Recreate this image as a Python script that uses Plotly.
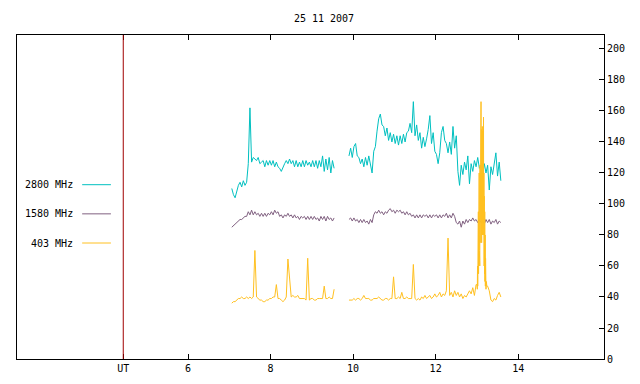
import numpy as np
import plotly.graph_objects as go

TITLE = "25 11 2007"
UT_MARK = 4.43
X_TICKS = [UT_MARK, 6, 8, 10, 12, 14]
X_TICK_TEXT = ["UT", "6", "8", "10", "12", "14"]
Y_TICKS = list(range(0, 201, 20))
X_RANGE = [1.855, 16.08]
Y_RANGE = [0, 209]

SERIES_NAMES = ["2800 MHz", "1580 MHz", "403 MHz"]
COLORS = ["#00c0c0", "#806080", "#ffc020"]

SEG1_T0 = 7.06
SEG2_T0 = 9.90
TAIL_T0 = 13.26
DT = 0.04

f2800_seg1 = [110, 106, 104, 109, 112, 114, 111, 115, 112, 114,
              126, 162, 127, 130, 129, 128, 130, 126, 127, 128,
              124, 128, 125, 128, 125, 128, 124, 127, 124, 123,
              121, 124, 126, 128, 126, 129, 126, 128, 124, 128,
              124, 127, 124, 128, 124, 128, 125, 127, 124, 128,
              124, 128, 123, 128, 124, 131, 121, 129, 122, 130,
              120, 128, 123]
f2800_seg2 = [131, 136, 130, 137, 139, 131, 130, 126, 129, 124,
              130, 125, 131, 126, 120, 134, 137, 147, 155, 158,
              151, 150, 144, 149, 141, 146, 140, 145, 139, 144,
              138, 144, 139, 145, 140, 146, 147, 152, 146, 166,
              144, 151, 141, 146, 136, 143, 137, 142, 148, 157,
              139, 146, 134, 132, 126, 133, 146, 150, 141, 139,
              133, 140, 132, 150, 136, 144, 121, 112, 125, 119,
              127, 122, 131, 113, 126, 121, 128, 124, 130, 123,
              125, 119, 126, 120, 125, 109, 124, 119, 128, 133,
              118, 127, 115]

f1580_seg1 = [85, 86, 87, 88, 89, 90, 90, 91, 92, 92,
              95, 93, 96, 93, 95, 93, 94, 92, 94, 92,
              94, 92, 94, 93, 95, 93, 96, 94, 95, 92,
              93, 91, 93, 92, 94, 92, 93, 91, 93, 91,
              92, 90, 92, 91, 92, 90, 92, 90, 92, 90,
              92, 90, 91, 89, 92, 90, 92, 89, 92, 90,
              91, 89, 91]
f1580_seg2 = [90, 91, 89, 91, 89, 90, 88, 90, 88, 90,
              88, 89, 87, 90, 88, 93, 95, 94, 96, 94,
              95, 93, 95, 94, 96, 97, 95, 96, 94, 96,
              95, 96, 94, 95, 93, 95, 93, 94, 92, 93,
              91, 93, 91, 93, 91, 93, 92, 93, 91, 93,
              91, 93, 92, 93, 91, 93, 91, 93, 92, 94,
              91, 93, 91, 94, 92, 88, 87, 89, 85, 89,
              87, 90, 88, 90, 89, 91, 89, 90, 88, 90,
              88, 89, 87, 90, 88, 90, 87, 89, 88, 90,
              87, 89, 88]

f403_seg1 = [36, 37, 37, 38, 39, 39, 40, 39, 39, 40,
             39, 40, 39, 40, 70, 40, 39, 38, 38, 37,
             37, 38, 38, 39, 39, 40, 40, 48, 39, 39,
             38, 37, 38, 40, 64.5, 50, 40, 41, 40, 40,
             41, 39, 39, 39, 39, 38, 65, 38, 39, 39,
             38, 38, 39, 39, 39, 39, 47, 39, 39, 40,
             39, 39, 45]
f403_seg2 = [38, 38, 38, 39, 38, 39, 39, 38, 39, 41,
             39, 39, 39, 38, 38, 39, 39, 39, 40, 39,
             38, 38, 39, 39, 38, 39, 39, 53, 39, 39,
             40, 39, 43, 39, 39, 40, 39, 39, 39, 61,
             39, 38, 39, 38, 40, 39, 41, 39, 40, 41,
             39, 40, 42, 40, 41, 43, 40, 42, 41, 44,
             78, 41, 43, 40, 44, 41, 43, 40, 42, 39,
             41, 40, 42, 44, 42, 46, 41, 48]
f403_burst_t = [13.000, 13.005, 13.010, 13.015, 13.020, 13.025, 13.030, 13.035,
                13.040, 13.045, 13.050, 13.055, 13.060, 13.065, 13.070, 13.075,
                13.080, 13.085, 13.090, 13.095, 13.100, 13.105, 13.110, 13.115,
                13.120, 13.125, 13.130, 13.135, 13.140, 13.145, 13.150, 13.155,
                13.160, 13.165, 13.170, 13.175, 13.180, 13.185, 13.190, 13.195,
                13.200, 13.205, 13.210, 13.220, 13.230, 13.240]
f403_burst = [48, 55, 45, 60, 47, 75, 50, 95,
              55, 110, 60, 120, 70, 105, 60, 125,
              75, 140, 80, 150, 166, 90, 148, 75,
              145, 85, 150, 80, 147, 90, 150, 100,
              156, 80, 120, 60, 105, 55, 95, 50,
              80, 47, 65, 45, 50, 47]
f403_tail = [47, 44, 38, 37, 39, 38, 41, 43, 40]


def times(t0, vals):
    return list(t0 + DT * np.arange(len(vals)))


x2800 = times(SEG1_T0, f2800_seg1) + [None] + times(SEG2_T0, f2800_seg2)
y2800 = f2800_seg1 + [None] + f2800_seg2
x1580 = times(SEG1_T0, f1580_seg1) + [None] + times(SEG2_T0, f1580_seg2)
y1580 = f1580_seg1 + [None] + f1580_seg2
x403 = (times(SEG1_T0, f403_seg1) + [None] + times(SEG2_T0, f403_seg2)
        + f403_burst_t + times(TAIL_T0, f403_tail))
y403 = f403_seg1 + [None] + f403_seg2 + f403_burst + f403_tail

FONT = "DejaVu Sans Mono"

fig = go.Figure()
for name, xs, ys, col in zip(SERIES_NAMES, [x2800, x1580, x403],
                             [y2800, y1580, y403], COLORS):
    fig.add_trace(go.Scatter(x=xs, y=ys, mode="lines", name=name,
                             line=dict(color=col, width=1),
                             connectgaps=False, showlegend=False))

fig.add_shape(type="line", xref="x", yref="paper", x0=UT_MARK, x1=UT_MARK,
              y0=0, y1=1, line=dict(color="#a00000", width=1))

# legend drawn gnuplot-style: label then sample line
leg_y = [0.538, 0.448, 0.358]
for name, col, ly in zip(SERIES_NAMES, COLORS, leg_y):
    fig.add_annotation(xref="paper", yref="paper", x=0.099, y=ly,
                       text=name, showarrow=False, xanchor="right",
                       yanchor="middle", font=dict(family=FONT, size=10, color="black"))
    fig.add_shape(type="line", xref="paper", yref="paper", x0=0.111, x1=0.160,
                  y0=ly, y1=ly, line=dict(color=col, width=1))

fig.update_layout(
    width=632, height=376,
    margin=dict(l=9, r=36, t=27, b=25),
    paper_bgcolor="white", plot_bgcolor="white",
    title=dict(text=TITLE, x=0.5, xref="container", xanchor="center",
               y=0.973, yref="container", yanchor="middle",
               font=dict(family=FONT, size=10, color="black")),
    font=dict(family=FONT, size=10, color="black"),
    xaxis=dict(range=X_RANGE, tickvals=X_TICKS, ticktext=X_TICK_TEXT,
               ticks="inside", ticklen=5, tickcolor="black",
               showline=True, linecolor="black", linewidth=1, mirror="ticks",
               showgrid=False, zeroline=False),
    yaxis=dict(range=Y_RANGE, tickvals=Y_TICKS, side="right",
               ticks="inside", ticklen=5, tickcolor="black",
               showline=True, linecolor="black", linewidth=1, mirror=True,
               showgrid=False, zeroline=False),
)

fig.write_html("out.html")
